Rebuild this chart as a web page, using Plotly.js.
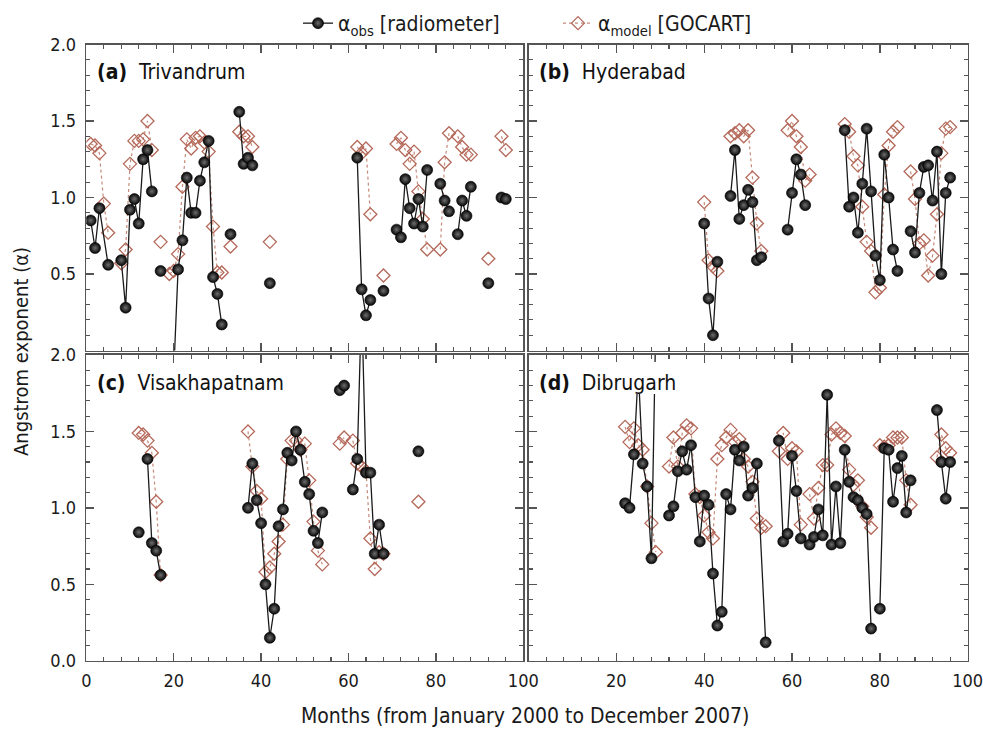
<!DOCTYPE html>
<html>
<head>
<meta charset="utf-8">
<script src="https://cdn.plot.ly/plotly-3.0.1.min.js"></script>
<style>
  html, body { margin: 0; padding: 0; background: #fff; }
  #chart { width: 983px; height: 729px; }
</style>
</head>
<body>
<div id="chart"></div>
<script>
// Monthly Angstrom exponent: radiometer observations vs GOCART model.
// Month index counts from January 2000; null breaks a line.

// (a) Trivandrum
const trvObsMonths = [1,2,3,5,null,8,9,10,11,12,13,14,15,null,17,null,20,21,22,23,24,25,26,27,28,29,30,31,null,33,null,35,36,37,38,null,42,null,62,63,64,65,null,68,null,71,72,73,74,75,76,77,78,null,81,82,83,null,85,86,87,88,null,92,null,95,96];
const trvObsAlpha  = [0.85,0.67,0.93,0.56,null,0.59,0.28,0.92,0.99,0.83,1.25,1.31,1.04,null,0.52,null,-0.15,0.53,0.72,1.13,0.90,0.90,1.11,1.23,1.37,0.48,0.37,0.17,null,0.76,null,1.56,1.22,1.26,1.21,null,0.44,null,1.26,0.40,0.23,0.33,null,0.39,null,0.79,0.74,1.12,0.93,0.83,0.99,0.81,1.18,null,1.09,0.98,0.91,null,0.76,0.98,0.88,1.07,null,0.44,null,1.00,0.99];
const trvModMonths = [1,2,3,4,5,null,8,9,10,11,12,13,14,15,null,17,null,19,20,21,22,23,24,25,26,27,28,29,30,31,null,33,null,35,36,37,38,null,42,null,62,63,64,65,null,68,null,71,72,73,74,75,76,77,78,null,81,82,83,null,85,86,87,88,null,92,null,95,96];
const trvModAlpha  = [1.35,1.34,1.29,0.96,0.77,null,0.57,0.66,1.22,1.37,1.37,1.38,1.50,1.31,null,0.71,null,0.50,0.52,0.63,1.07,1.38,1.32,1.39,1.40,1.36,1.30,0.81,0.51,0.51,null,0.68,null,1.43,1.40,1.40,1.33,null,0.71,null,1.33,1.29,1.32,0.89,null,0.49,null,1.35,1.39,1.31,1.22,1.30,1.04,0.86,0.66,null,0.66,1.23,1.42,null,1.40,1.33,1.28,1.28,null,0.60,null,1.40,1.31];

// (b) Hyderabad
const hydObsMonths = [40,41,42,43,null,46,47,48,49,50,51,52,53,null,59,60,61,62,63,null,72,73,74,75,76,77,78,79,80,81,82,83,84,null,87,88,89,90,91,92,93,94,95,96];
const hydObsAlpha  = [0.83,0.34,0.10,0.58,null,1.01,1.31,0.86,0.95,1.05,0.97,0.59,0.61,null,0.79,1.03,1.25,1.15,0.95,null,1.44,0.94,1.00,0.77,1.09,1.45,1.04,0.62,0.46,1.28,1.00,0.66,0.52,null,0.78,0.64,1.03,1.20,1.21,0.98,1.30,0.50,1.03,1.13];
const hydModMonths = [40,41,42,43,null,46,47,48,49,50,51,52,53,null,59,60,61,62,63,64,null,72,73,74,75,76,77,78,79,80,81,82,83,84,null,87,88,89,90,91,92,93,94,95,96];
const hydModAlpha  = [0.97,0.59,0.55,0.52,null,1.40,1.42,1.44,1.40,1.44,1.13,0.83,0.65,null,1.44,1.50,1.40,1.33,1.11,1.15,null,1.48,1.43,1.27,1.21,0.94,0.71,0.65,0.38,0.41,1.02,1.34,1.43,1.46,null,1.17,0.99,0.70,0.72,0.49,0.62,0.89,1.29,1.45,1.46];

// (c) Visakhapatnam
const vskObsMonths = [12,null,14,15,16,17,null,37,38,39,40,41,42,43,44,45,46,47,48,49,50,51,52,53,54,null,58,59,null,61,62,63,64,65,66,67,68,null,76];
const vskObsAlpha  = [0.84,null,1.32,0.77,0.72,0.56,null,1.00,1.29,1.05,0.90,0.50,0.15,0.34,0.88,0.99,1.36,1.31,1.50,1.38,1.17,1.09,0.85,0.77,0.97,null,1.77,1.80,null,1.12,1.32,2.35,1.23,1.23,0.70,0.89,0.70,null,1.37];
const vskModMonths = [12,13,14,15,16,17,null,37,38,39,40,41,42,43,44,45,46,47,48,49,50,51,52,53,54,null,58,59,null,61,62,63,64,65,66,67,68,null,76];
const vskModAlpha  = [1.49,1.48,1.44,1.36,1.04,0.56,null,1.50,1.27,1.11,1.06,0.58,0.61,0.70,0.78,0.89,1.32,1.44,1.44,1.38,1.42,1.18,0.91,0.72,0.63,null,1.42,1.46,null,1.44,1.29,1.27,1.24,0.80,0.60,0.71,0.70,null,1.04];

// (d) Dibrugarh
const dbrObsMonths = [22,23,24,25,26,27,28,29,null,32,33,34,35,36,37,38,39,40,41,42,43,44,45,46,47,48,49,50,51,52,54,null,57,58,59,60,61,62,null,64,65,66,67,68,69,70,71,72,73,74,75,76,77,78,null,80,81,82,83,84,85,86,87,null,93,94,95,96];
const dbrObsAlpha  = [1.03,1.00,1.35,1.90,1.29,1.14,0.67,2.25,null,0.95,1.01,1.24,1.37,1.25,1.41,1.07,0.78,1.08,1.02,0.57,0.23,0.32,1.09,0.99,1.38,1.31,1.40,1.08,1.13,1.29,0.12,null,1.44,0.78,0.83,1.34,1.11,0.80,null,0.76,0.81,0.99,0.82,1.74,0.76,1.14,0.77,1.38,1.17,1.07,1.05,1.00,0.96,0.21,null,0.34,1.39,1.38,1.04,1.26,1.34,0.97,1.18,null,1.64,1.30,1.06,1.30];
const dbrModMonths = [22,23,24,25,26,27,28,29,null,32,33,34,35,36,37,38,39,40,41,42,43,44,45,46,47,48,49,50,51,52,53,54,null,57,58,59,60,61,62,null,64,65,66,67,68,69,70,71,72,73,74,75,76,77,78,null,80,81,82,83,84,85,86,87,null,93,94,95,96];
const dbrModAlpha  = [1.53,1.43,1.52,1.41,1.38,1.14,0.90,0.71,null,1.27,1.46,1.27,1.49,1.54,1.52,1.09,1.07,0.95,0.84,0.80,1.32,1.41,1.46,1.51,1.43,1.45,1.32,1.27,1.17,0.93,0.87,0.88,null,1.37,1.49,1.32,1.39,1.37,0.89,null,1.09,0.93,1.13,1.28,1.28,1.48,1.52,1.49,1.47,1.25,1.15,1.18,1.01,0.94,0.87,null,1.41,1.40,1.41,1.46,1.46,1.46,1.18,1.02,null,1.33,1.48,1.39,1.36];

const panelLabels = ['(a)', '(b)', '(c)', '(d)'];
const stationNames = ['Trivandrum', 'Hyderabad', 'Visakhapatnam', 'Dibrugarh'];
const xTickValsLeft = [0, 20, 40, 60, 80, 100];
const xTickValsRight = [20, 40, 60, 80, 100];
const yTickValsTop = [0.5, 1.0, 1.5, 2.0];
const yTickValsBottom = [0, 0.5, 1.0, 1.5, 2.0];

const FONT = '"DejaVu Sans Condensed", "Liberation Sans Narrow", "DejaVu Sans", sans-serif';
const OBS_LINE = '#1a1a1a';
const MOD_EDGE = '#b4695a';
const MOD_LINE = '#c58a78';

const panels = [
  { obsM: trvObsMonths, obsA: trvObsAlpha, modM: trvModMonths, modA: trvModAlpha, xa: 'x',  ya: 'y'  },
  { obsM: hydObsMonths, obsA: hydObsAlpha, modM: hydModMonths, modA: hydModAlpha, xa: 'x2', ya: 'y2' },
  { obsM: vskObsMonths, obsA: vskObsAlpha, modM: vskModMonths, modA: vskModAlpha, xa: 'x3', ya: 'y3' },
  { obsM: dbrObsMonths, obsA: dbrObsAlpha, modM: dbrModMonths, modA: dbrModAlpha, xa: 'x4', ya: 'y4' }
];

const traces = [];
panels.forEach((p, i) => {
  traces.push({
    type: 'scatter', mode: 'lines+markers',
    x: p.modM, y: p.modA, xaxis: p.xa, yaxis: p.ya,
    name: '\u03b1<sub>model</sub> [GOCART]', legendrank: 2,
    showlegend: i === 0, hoverinfo: 'skip',
    line: { color: MOD_LINE, width: 1.2, dash: 'dot' },
    marker: { symbol: 'diamond-open', size: 10, color: MOD_EDGE, line: { width: 1.3, color: MOD_EDGE } }
  });
  traces.push({
    type: 'scatter', mode: 'lines+markers',
    x: p.obsM, y: p.obsA, xaxis: p.xa, yaxis: p.ya,
    name: '\u03b1<sub>obs</sub> [radiometer]', legendrank: 1,
    showlegend: i === 0, hoverinfo: 'skip',
    line: { color: OBS_LINE, width: 1.3 },
    marker: { symbol: 'circle', size: 11, color: '#050505',
              gradient: { type: 'radial', color: '#6e6e6e' },
              line: { width: 0.6, color: '#000' } }
  });
});

// pixel geometry of the four frames (983 x 729 page, zero margins)
const W = 983, H = 729;
const colX = [[86.3, 523.3], [528.5, 967.7]];
const rowY = [[44.5, 350.5], [355, 660.7]];
const dx = c => [colX[c][0] / W, colX[c][1] / W];
const dy = r => [1 - rowY[r][1] / H, 1 - rowY[r][0] / H];

const tickFont = { family: FONT, size: 18, color: '#1a1a1a' };

function xAxis(col, row, anchor) {
  const vals = col === 0 ? xTickValsLeft : xTickValsRight;
  return {
    domain: dx(col), anchor: anchor, range: [0, 100],
    showgrid: false, zeroline: false, showline: true,
    linecolor: '#555', linewidth: 1.6, mirror: 'allticks',
    ticks: 'inside', ticklen: 8, tickwidth: 1.3, tickcolor: '#555',
    tickmode: 'array', tickvals: vals, ticktext: vals.map(v => String(v)),
    showticklabels: row === 1, tickfont: tickFont, ticklabelstandoff: 3,
    ticklabeloverflow: 'allow',
    minor: { dtick: 4, tick0: 0, ticks: 'inside', ticklen: 4, tickwidth: 1.1, tickcolor: '#555', showgrid: false },
    fixedrange: true
  };
}
function yAxis(col, row, anchor) {
  const vals = row === 0 ? yTickValsTop : yTickValsBottom;
  return {
    domain: dy(row), anchor: anchor, range: [0, 2],
    showgrid: false, zeroline: false, showline: true,
    linecolor: '#555', linewidth: 1.6, mirror: 'allticks',
    ticks: 'inside', ticklen: 8, tickwidth: 1.3, tickcolor: '#555',
    tickmode: 'array', tickvals: vals, ticktext: vals.map(v => v.toFixed(1)),
    showticklabels: col === 0, tickfont: tickFont, ticklabelstandoff: 5,
    ticklabeloverflow: 'allow',
    minor: { dtick: 0.1, tick0: 0, ticks: 'inside', ticklen: 4, tickwidth: 1.1, tickcolor: '#555', showgrid: false },
    fixedrange: true
  };
}

const annotations = [];
const cells = [[0, 0, 'x', 'y'], [1, 0, 'x2', 'y2'], [0, 1, 'x3', 'y3'], [1, 1, 'x4', 'y4']];
cells.forEach((c, i) => {
  annotations.push({
    xref: c[2] + ' domain', yref: c[3] + ' domain', x: 0.02, y: 0.91,
    xanchor: 'left', yanchor: 'middle', showarrow: false,
    text: '<b>' + panelLabels[i] + '</b>  ' + stationNames[i],
    font: { family: FONT, size: 21, color: '#111' }
  });
});
annotations.push({
  xref: 'paper', yref: 'paper', x: 525 / W, y: 1 - 716 / H,
  xanchor: 'center', yanchor: 'middle', showarrow: false,
  text: 'Months (from January 2000 to December 2007)',
  font: { family: FONT, size: 21, color: '#1a1a1a' }
});
annotations.push({
  xref: 'paper', yref: 'paper', x: 21 / W, y: 1 - 352 / H,
  xanchor: 'center', yanchor: 'middle', showarrow: false, textangle: -90,
  text: 'Angstrom exponent (\u03b1)',
  font: { family: FONT, size: 20, color: '#1a1a1a' }
});

// white backing behind the Dibrugarh label, masking the tall spikes under it
const shapes = [{
  type: 'rect', layer: 'above', xref: 'x4', yref: 'y4',
  x0: 1.0, x1: 35.5, y0: 1.745, y1: 1.955,
  fillcolor: '#ffffff', line: { width: 0 }
}];

const layout = {
  width: W, height: H,
  margin: { l: 0, r: 0, t: 0, b: 0 },
  paper_bgcolor: '#ffffff', plot_bgcolor: '#ffffff',
  font: { family: FONT, color: '#1a1a1a' },
  showlegend: true,
  legend: {
    orientation: 'h', x: 298 / W, y: 1 - 3 / H, xanchor: 'left', yanchor: 'top',
    font: { family: FONT, size: 21, color: '#1a1a1a' },
    bgcolor: 'rgba(0,0,0,0)', entrywidth: 215, entrywidthmode: 'pixels',
    itemsizing: 'trace'
  },
  xaxis: xAxis(0, 0, 'y'),   yaxis: yAxis(0, 0, 'x'),
  xaxis2: xAxis(1, 0, 'y2'), yaxis2: yAxis(1, 0, 'x2'),
  xaxis3: xAxis(0, 1, 'y3'), yaxis3: yAxis(0, 1, 'x3'),
  xaxis4: xAxis(1, 1, 'y4'), yaxis4: yAxis(1, 1, 'x4'),
  annotations: annotations,
  shapes: shapes
};

Plotly.newPlot('chart', traces, layout, { staticPlot: true, displayModeBar: false });
</script>
</body>
</html>
